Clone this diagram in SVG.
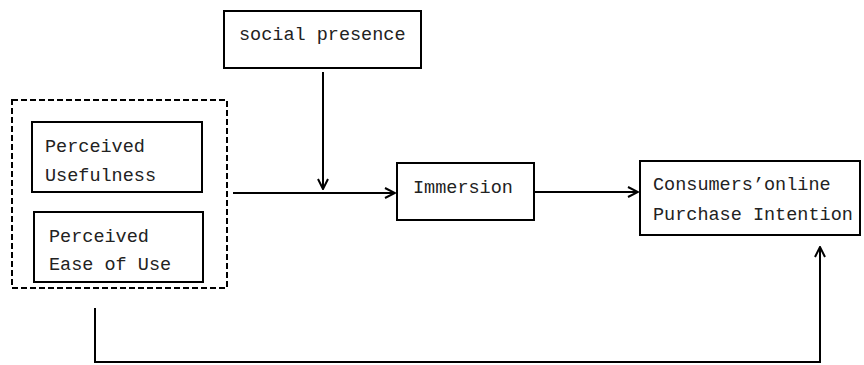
<svg xmlns="http://www.w3.org/2000/svg" width="864" height="365" viewBox="0 0 864 365">
<style>
.box{fill:#fff;stroke:#000;stroke-width:2}
.dash{fill:none;stroke:#000;stroke-width:2;stroke-dasharray:6,3}
.t{font-family:"Liberation Mono","DejaVu Sans Mono",monospace;font-size:18.5px;fill:#222}
.c{fill:none;stroke:#000;stroke-width:2}
</style>
<defs>
<marker id="ah" viewBox="0 0 12 12" refX="11" refY="6" markerWidth="12" markerHeight="12" markerUnits="userSpaceOnUse" orient="auto">
<polyline points="1,1 11,6 1,11" fill="none" stroke="#000" stroke-width="2"/>
</marker>
</defs>
<rect width="864" height="365" fill="#fff"/>
<g id="group-perceived">
<rect class="dash" x="12" y="100" width="215" height="188"/>
</g>
<g id="perceived-usefulness">
<rect class="box" x="32" y="122" width="170" height="70"/>
<text class="t" x="45" y="152">Perceived</text>
<text class="t" x="45" y="181">Usefulness</text>
</g>
<g id="perceived-ease">
<rect class="box" x="34" y="212" width="169" height="70"/>
<text class="t" x="49" y="242">Perceived</text>
<text class="t" x="49" y="270">Ease of Use</text>
</g>
<g id="social-presence">
<rect class="box" x="224" y="11" width="197" height="57"/>
<text class="t" x="239" y="40">social presence</text>
</g>
<g id="immersion">
<rect class="box" x="397" y="163" width="137" height="57"/>
<text class="t" x="413" y="193">Immersion</text>
</g>
<g id="purchase-intention">
<rect class="box" x="640" y="161" width="220" height="74"/>
<text class="t" x="653" y="190">Consumers’online</text>
<text class="t" x="653" y="220">Purchase Intention</text>
</g>
<g id="connectors">
<line class="c" x1="233" y1="193" x2="395" y2="193" marker-end="url(#ah)"/>
<line class="c" x1="323" y1="72" x2="323" y2="189" marker-end="url(#ah)"/>
<line class="c" x1="534" y1="192" x2="638" y2="192" marker-end="url(#ah)"/>
<polyline class="c" points="95,308 95,362 820,362 820,247" marker-end="url(#ah)"/>
</g>
</svg>
